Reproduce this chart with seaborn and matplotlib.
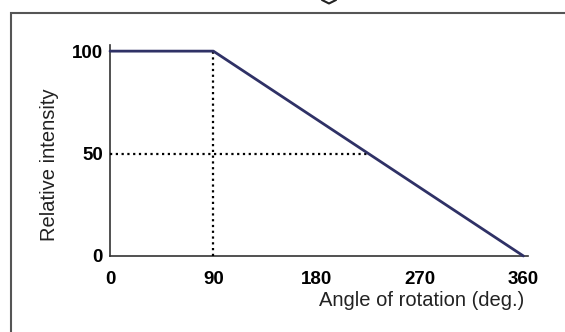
import matplotlib
matplotlib.use("Agg")
import matplotlib.pyplot as plt
from matplotlib.lines import Line2D
from matplotlib.patches import Rectangle
import seaborn as sns
import pandas as pd

# Intensity profile versus rotation angle
angle = [0, 90, 360]
intensity = [100, 100, 0]
half_angle = 225
xticks = [0, 90, 180, 270, 360]
yticks = [0, 50, 100]

sns.set_theme(style="white")
plt.rcParams["font.family"] = ["Liberation Sans", "DejaVu Sans"]

fig = plt.figure(figsize=(5.65, 3.32), dpi=100)
ax = fig.add_axes([0.1947, 0.229, 0.9345 - 0.1947, 0.8645 - 0.229])

df = pd.DataFrame({"angle": angle, "intensity": intensity})
sns.lineplot(data=df, x="angle", y="intensity", ax=ax, color="#2f3166",
             linewidth=2.0, clip_on=False, zorder=4)

# Guide lines at the plateau edge and the half-intensity point
ax.plot([angle[1], angle[1]], [0, intensity[1]], linestyle=(0, (1, 1.6)),
        color="black", linewidth=1.6, zorder=3, clip_on=False)
ax.plot([0, half_angle], [50, 50], linestyle=(0, (1, 1.6)),
        color="black", linewidth=1.6, zorder=3, clip_on=False)

ax.set_xlim(0, 364)
ax.set_ylim(0, 103)
for s in ["top", "right"]:
    ax.spines[s].set_visible(False)
for s in ["left", "bottom"]:
    ax.spines[s].set_color("#333333")
    ax.spines[s].set_linewidth(1.2)

ax.set_xticks(xticks)
ax.set_yticks(yticks)
tick_font = dict(family=["Liberation Sans", "DejaVu Sans"],
                 weight="bold", size=13.5)
ax.set_xticklabels([str(v) for v in xticks], **tick_font)
ax.set_yticklabels([str(v) for v in yticks], **tick_font)
ax.tick_params(axis="x", length=0, pad=11, colors="black")
ax.tick_params(axis="y", length=0, pad=5, colors="black")

ax.set_xlabel("")
ax.set_ylabel("")
fig.text(524 / 565, 1 - 301 / 332, "Angle of rotation (deg.)", ha="right",
         va="center", fontsize=14.5, color="#222222")
fig.text(50 / 565, 1 - 165 / 332, "Relative intensity", rotation=90,
         ha="center", va="center", fontsize=14.5, color="#222222")

# Frame around the figure, running past the right and bottom edges
fig.patches.append(Rectangle((11 / 565, -0.05), 1.1, 1 - 13 / 332 + 0.05,
                             transform=fig.transFigure, fill=False,
                             edgecolor="#555555", linewidth=1.5))
# Small chevron at the top edge
fig.lines.append(Line2D([322 / 565, 329 / 565, 336 / 565],
                        [1.0, 1 - 3.5 / 332, 1.0], transform=fig.transFigure,
                        color="#222222", linewidth=1.5))

fig.savefig("out.png", dpi=100)
